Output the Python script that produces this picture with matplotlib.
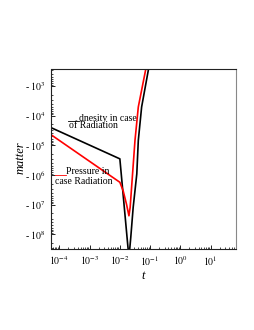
import numpy as np
import matplotlib
matplotlib.use("Agg")
import matplotlib.pyplot as plt
from matplotlib.ticker import FixedLocator, FuncFormatter, LogLocator, NullFormatter
from matplotlib.lines import Line2D

# values, as log10(t) and log10(|matter|)
log_t_density = [-4.27, -2.00, -1.70, -1.64, -1.56, -1.44, -1.39, -1.28, -1.05, -0.95]
log_m_density = [4.41, 5.46, 8.80, 8.12, 7.10, 5.97, 4.84, 3.71, 2.42, 1.90]

log_t_pressure = [-4.27, -2.00, -1.89, -1.78, -1.70, -1.66, -1.58, -1.50, -1.39, -1.14, -1.00]
log_m_pressure = [4.65, 6.25, 6.54, 6.99, 7.38, 7.10, 5.97, 4.84, 3.71, 2.42, 1.90]

y_exponents = [3, 4, 5, 6, 7, 8]
x_exponents = [-4, -3, -2, -1, 0, 1]

W, H = 255, 330
plt.rcParams['font.family'] = ['Liberation Serif', 'DejaVu Serif']
plt.rcParams['mathtext.fontset'] = 'stix'

fig = plt.figure(figsize=(W / 100, H / 100), dpi=100)
ax = fig.add_axes([51.5 / W, 1 - 249 / H, (236 - 51.5) / W, (249 - 68.7) / H])

t_d = 10 ** np.array(log_t_density)
m_d = 10 ** np.array(log_m_density)
t_p = 10 ** np.array(log_t_pressure)
m_p = 10 ** np.array(log_m_pressure)

ax.plot(t_d, m_d, color='black', lw=1.2)
ax.plot(t_p, m_p, color='red', lw=1.2)

ax.set_xscale('log')
ax.set_yscale('log')
ax.set_xlim(10 ** -4.26, 10 ** 1.84)
ax.set_ylim(10 ** 8.5, 10 ** 2.42)

ax.yaxis.set_major_locator(FixedLocator([10.0 ** k for k in y_exponents]))
ax.yaxis.set_major_formatter(FuncFormatter(
    lambda v, p: "- $10^{%d}$" % round(np.log10(v))))
ax.yaxis.set_minor_locator(LogLocator(base=10, subs=np.arange(2, 10)))
ax.yaxis.set_minor_formatter(NullFormatter())

ax.xaxis.set_major_locator(FixedLocator([10.0 ** k for k in x_exponents]))
ax.xaxis.set_major_formatter(FuncFormatter(
    lambda v, p: "$10^{%d}$" % round(np.log10(v))))
ax.xaxis.set_minor_locator(LogLocator(base=10, subs=np.arange(2, 10)))
ax.xaxis.set_minor_formatter(NullFormatter())

ax.tick_params(which='major', direction='in', length=3, width=0.6,
               labelsize=7, pad=4, top=False, right=False)
ax.tick_params(which='minor', direction='in', length=1.5, width=0.5,
               top=False, right=False)

for s in ['left', 'bottom', 'top']:
    ax.spines[s].set_color('#222222')
    ax.spines[s].set_linewidth(0.8)
ax.spines['right'].set_color('#888888')
ax.spines['right'].set_linewidth(0.8)

# legend-like annotations
fig.add_artist(Line2D([68.5 / W, 78.5 / W], [1 - 121 / H, 1 - 121 / H],
                      color='black', lw=0.6))
fig.text(79 / W, 1 - 121 / H, "dnesity in case", fontsize=7, va='baseline')
fig.text(69 / W, 1 - 128.5 / H, "of Radiation", fontsize=7, va='baseline')

fig.add_artist(Line2D([55 / W, 66 / W], [1 - 174.5 / H, 1 - 174.5 / H],
                      color='red', lw=0.6))
fig.text(66.5 / W, 1 - 174.5 / H, "Pressure in", fontsize=7, va='baseline')
fig.text(55 / W, 1 - 184.5 / H, "case Radiation", fontsize=7, va='baseline')

fig.text(20.5 / W, 1 - 158 / H, "matter", fontsize=9, style='italic',
         rotation=90, ha='center', va='center')
fig.text(143 / W, 1 - 276 / H, "t", fontsize=9, style='italic',
         ha='center', va='center')

fig.savefig("out.png", dpi=100)
